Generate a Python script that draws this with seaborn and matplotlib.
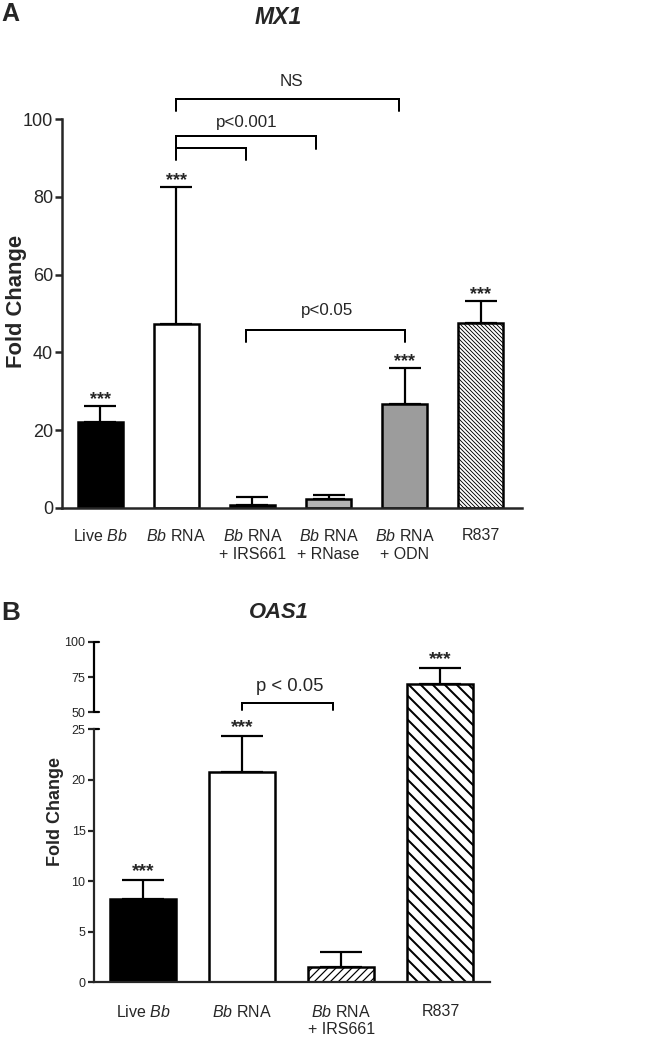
import numpy as np
import pandas as pd
import seaborn as sns
import matplotlib
matplotlib.use("Agg")
import matplotlib.pyplot as plt
from matplotlib.transforms import blended_transform_factory

# ---------------- data ----------------
mx1_groups = ["Live Bb", "Bb RNA", "Bb RNA + IRS661", "Bb RNA + RNase", "Bb RNA + ODN", "R837"]
mx1_labels = ["Live $\\it{Bb}$", "$\\it{Bb}$ RNA", "$\\it{Bb}$ RNA\n+ IRS661",
              "$\\it{Bb}$ RNA\n+ RNase", "$\\it{Bb}$ RNA\n+ ODN", "R837"]
mx1_mean = [22.1, 47.4, 0.8, 2.2, 26.7, 47.5]
mx1_err = [4.1, 35.2, 1.9, 1.1, 9.3, 5.6]
mx1_sig = ["***", "***", "", "", "***", "***"]
mx1_yticks = [0, 20, 40, 60, 80, 100]

oas1_groups = ["Live Bb", "Bb RNA", "Bb RNA + IRS661", "R837"]
oas1_labels = ["Live $\\it{Bb}$", "$\\it{Bb}$ RNA", "$\\it{Bb}$ RNA\n+ IRS661", "R837"]
oas1_mean = [8.2, 20.8, 1.5, 70.0]
oas1_err = [1.9, 3.5, 1.5, 11.6]
oas1_sig = ["***", "***", "", "***"]
oas1_yticks = [0, 5, 10, 15, 20, 25, 50, 75, 100]

# ---------------- style ----------------
sns.set_style("ticks")
FONT = "Liberation Sans"
plt.rcParams["font.family"] = [FONT, "DejaVu Sans"]
plt.rcParams["mathtext.fontset"] = "custom"
plt.rcParams["mathtext.rm"] = FONT
plt.rcParams["mathtext.it"] = FONT + ":italic"
plt.rcParams["mathtext.bf"] = FONT + ":bold"
plt.rcParams["hatch.linewidth"] = 1.0

DPI = 72
fig = plt.figure(figsize=(666 / DPI, 1041 / DPI), dpi=DPI)
fig.patch.set_facecolor("white")

axA = fig.add_axes([62 / 666, 1 - 508 / 1041, 460 / 666, 389 / 1041])
axB = fig.add_axes([93.5 / 666, 1 - 982.3 / 1041, 396.5 / 666, 340.6 / 1041])


def draw_bars(ax, groups, mean, err, colors, hatches, hatch_lw, width, capsize):
    df = pd.DataFrame({"group": groups, "value": mean})
    sns.barplot(data=df, x="group", y="value", hue="group", palette=colors,
                order=groups, hue_order=groups, width=width, errorbar=None,
                edgecolor="black", linewidth=2.5, legend=False, ax=ax, saturation=1)
    for i, cont in enumerate(ax.containers):
        for p in cont:
            p.set_hatch(hatches[i])
            p.set_edgecolor("black")
            p.set_zorder(2)
            if hasattr(p, "set_hatch_linewidth"):
                p.set_hatch_linewidth(hatch_lw[i])
    x = np.arange(len(groups))
    ax.errorbar(x, mean, yerr=[np.zeros(len(err)), err], fmt="none", ecolor="black",
                elinewidth=2.2, capsize=capsize, capthick=2.2, zorder=1)


# ---------------- panel A ----------------
colsA = ["#000000", "#ffffff", "#000000", "#b4b4b4", "#9c9c9c", "#ffffff"]
hatA = ["", "", "", "", "", "\\\\\\\\\\\\"]
hlwA = [1, 1, 1, 1, 1, 0.9]
draw_bars(axA, mx1_groups, mx1_mean, mx1_err, colsA, hatA, hlwA, 0.59, 16)
axA.set_xlim(-0.5, 5.54)
axA.set_ylim(0, 100)
axA.set_yticks(mx1_yticks)
axA.set_yticklabels([str(t) for t in mx1_yticks], fontsize=18)
axA.set_xticks(range(len(mx1_groups)))
axA.set_xticklabels(mx1_labels, fontsize=16, linespacing=1.25)
axA.set_xlabel("")
axA.set_ylabel("")
axA.tick_params(axis="y", direction="out", length=7, width=2.5, pad=2)
axA.tick_params(axis="x", length=0, pad=20)
for s in ["top", "right"]:
    axA.spines[s].set_visible(False)
for s in ["left", "bottom"]:
    axA.spines[s].set_linewidth(2.5)

for i, (m, e, s) in enumerate(zip(mx1_mean, mx1_err, mx1_sig)):
    if s:
        axA.annotate(s, (i, m + e), xytext=(0, -2), textcoords="offset points",
                     ha="center", va="bottom", fontsize=18, fontweight="bold")

bk = dict(color="black", lw=2.0, clip_on=False, solid_joinstyle="miter")
axA.plot([1.0, 1.0, 3.92, 3.92], [102.1, 105.2, 105.2, 102.1], **bk)
axA.text(2.51, 109.7, "NS", ha="center", va="center", fontsize=17)
axA.plot([1.0, 1.0, 2.84, 2.84], [89.5, 95.6, 95.6, 92.3], **bk)
axA.plot([1.0, 1.92, 1.92], [92.6, 92.6, 89.5], **bk)
axA.text(1.92, 99.0, "p<0.001", ha="center", va="center", fontsize=17)
axA.plot([1.92, 1.92, 4.01, 4.01], [42.6, 45.8, 45.8, 42.6], **bk)
axA.text(2.98, 50.8, "p<0.05", ha="center", va="center", fontsize=17)

# ---------------- panel B (broken axis) ----------------
_bd = np.array([-1000.0, 0.0, 25.0, 50.0, 100.0, 1000.0])
_bp = np.array([-10120.0, 0.0, 253.0, 270.0, 340.6, 1611.4])


def fwd(y):
    return np.interp(y, _bd, _bp)


def inv(v):
    return np.interp(v, _bp, _bd)


axB.set_yscale("function", functions=(fwd, inv))
colsB = ["#000000", "#ffffff", "#ffffff", "#ffffff"]
hatB = ["", "", "///", "\\\\"]
hlwB = [1, 1, 1.2, 2.0]
draw_bars(axB, oas1_groups, oas1_mean, oas1_err, colsB, hatB, hlwB, 0.667, 21)
axB.set_xlim(-0.5, 3.5)
axB.set_ylim(0, 100)
axB.set_yticks(oas1_yticks)
axB.set_yticklabels([str(t) for t in oas1_yticks], fontsize=12.5)
axB.minorticks_off()
axB.set_xticks(range(len(oas1_groups)))
axB.set_xticklabels(oas1_labels, fontsize=16, linespacing=1.15)
axB.set_xlabel("")
axB.set_ylabel("")
axB.tick_params(axis="y", direction="out", length=6, width=2.2, pad=2)
axB.tick_params(axis="x", length=0, pad=22)
for s in ["top", "right"]:
    axB.spines[s].set_visible(False)
axB.spines["left"].set_linewidth(2.2)
axB.spines["bottom"].set_linewidth(2.2)
axB.spines["left"].set_bounds(0, 25)
trB = blended_transform_factory(axB.transAxes, axB.transData)
axB.plot([0, 0], [50, 100], transform=trB, color="black", lw=2.2, clip_on=False,
         solid_capstyle="butt")
for yv in [25, 50, 100]:
    axB.plot([0, 0.013], [yv, yv], transform=trB, color="black", lw=2.2, clip_on=False)

for i, (m, e, s) in enumerate(zip(oas1_mean, oas1_err, oas1_sig)):
    if s:
        axB.annotate(s, (i, m + e), xytext=(0, 0), textcoords="offset points",
                     ha="center", va="bottom", fontsize=19, fontweight="bold")

axB.plot([1.0, 1.0, 1.92, 1.92], [51.6, 56.4, 56.4, 51.6], **bk)
axB.text(1.48, 68.0, "p < 0.05", ha="center", va="center", fontsize=18.5)

# ---------------- titles / labels ----------------
fig.text(1 / 666, 1 - 2 / 1041, "A", ha="left", va="top", fontsize=25,
         fontweight="bold")
fig.text(278 / 666, 1 - 18 / 1041, "MX1", ha="center", va="center", fontsize=23,
         fontweight="bold", style="italic")
fig.text(17 / 666, 1 - 301 / 1041, "Fold Change", ha="center", va="center",
         rotation=90, fontsize=22, fontweight="bold")

fig.text(1 / 666, 1 - 601 / 1041, "B", ha="left", va="top", fontsize=26,
         fontweight="bold")
fig.text(279 / 666, 1 - 612 / 1041, "OAS1", ha="center", va="center", fontsize=22,
         fontweight="bold", style="italic")
fig.text(55 / 666, 1 - 812 / 1041, "Fold Change", ha="center", va="center",
         rotation=90, fontsize=18, fontweight="bold")

fig.savefig("out.png", dpi=DPI, facecolor="white")
